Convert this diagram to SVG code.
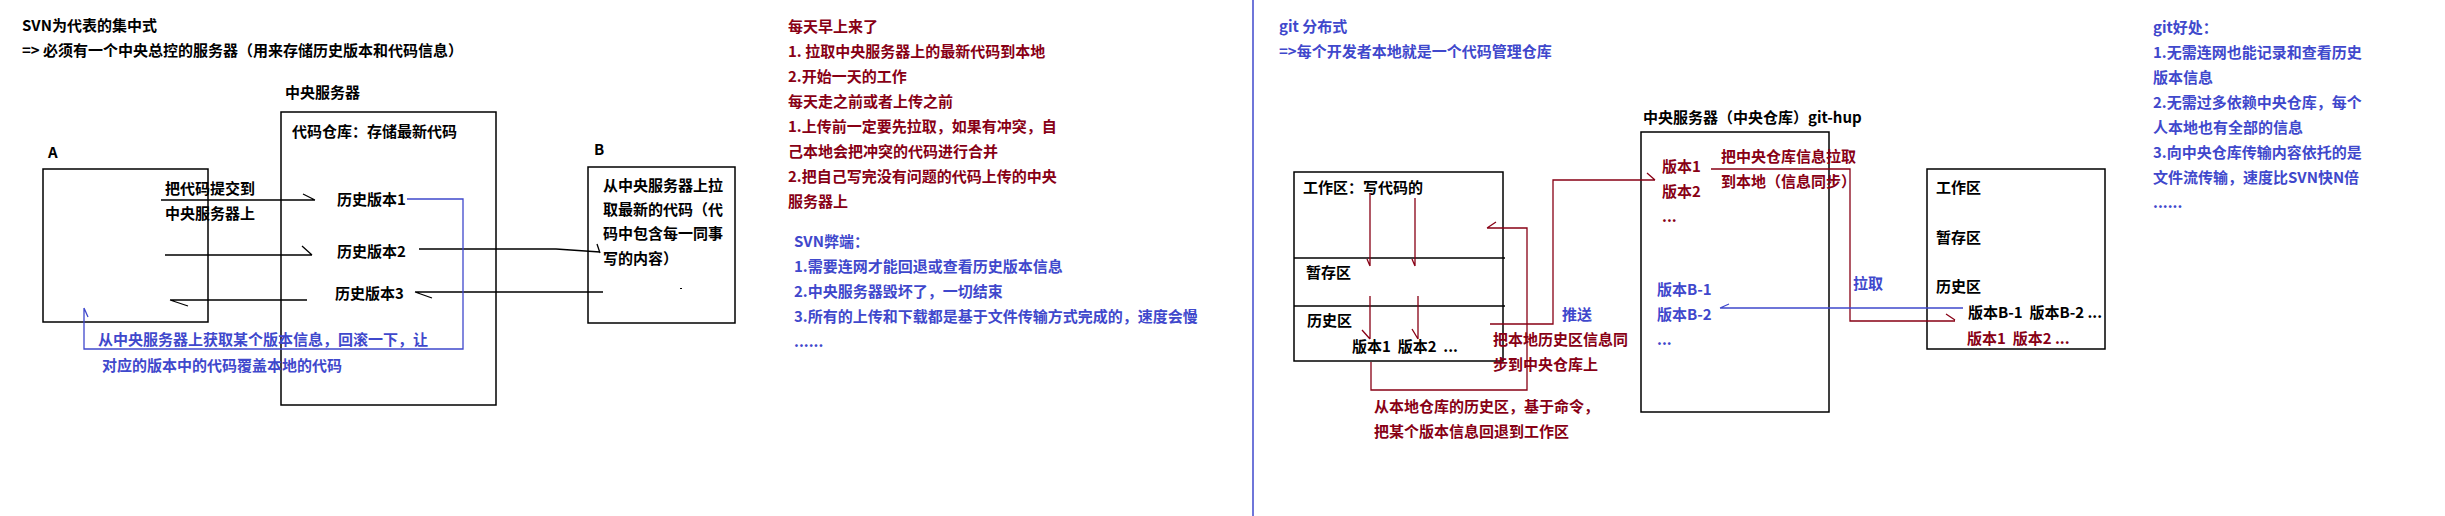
<svg xmlns="http://www.w3.org/2000/svg" width="2445" height="516" viewBox="0 0 2445 516" xml:space="preserve">
<style>
text{font-family:"Noto Sans CJK SC","Noto Sans",sans-serif;font-size:15px;font-weight:bold;white-space:pre;}
.k{fill:#000}
.r{fill:#880015}
.b{fill:#3F48CC}
.box{fill:none;stroke:#000;stroke-width:1.5}
.ck{fill:none;stroke:#000;stroke-width:1.3}
.cr{fill:none;stroke:#880015;stroke-width:1.3}
.cb{fill:none;stroke:#3F48CC;stroke-width:1.3}
</style>
<rect width="2445" height="516" fill="#fff"/>

<g id="svn-title">
<text class="k" x="22" y="31">SVN为代表的集中式</text>
<text class="k" x="22" y="56">=&gt; 必须有一个中央总控的服务器（用来存储历史版本和代码信息）</text>
</g>

<g id="node-central-svn">
<text class="k" x="285" y="98">中央服务器</text>
<rect class="box" x="281" y="112" width="215" height="293"/>
<text class="k" x="292" y="137">代码仓库：存储最新代码</text>
<text class="k" x="337" y="205">历史版本1</text>
<text class="k" x="337" y="257">历史版本2</text>
<text class="k" x="335" y="299">历史版本3</text>
</g>

<g id="node-a">
<text class="k" x="48" y="158">A</text>
<rect class="box" x="43" y="169" width="165" height="153"/>
</g>

<g id="node-b">
<text class="k" x="594" y="155">B</text>
<rect class="box" x="588" y="167" width="147" height="156"/>
<text class="k" x="603" y="191">从中央服务器上拉</text>
<text class="k" x="603" y="215">取最新的代码（代</text>
<text class="k" x="603" y="239">码中包含每一同事</text>
<text class="k" x="603" y="264">写的内容）</text>
<rect x="680" y="288" width="2" height="1" fill="#000"/>
</g>

<g id="svn-labels">
<text class="k" x="165" y="194">把代码提交到</text>
<text class="k" x="165" y="219">中央服务器上</text>
<text class="b" x="98" y="345">从中央服务器上获取某个版本信息，回滚一下，让</text>
<text class="b" x="102" y="371">对应的版本中的代码覆盖本地的代码</text>
</g>

<g id="svn-notes">
<text class="r" x="788" y="32">每天早上来了</text>
<text class="r" x="788" y="57">1. 拉取中央服务器上的最新代码到本地</text>
<text class="r" x="788" y="82">2.开始一天的工作</text>
<text class="r" x="788" y="107">每天走之前或者上传之前</text>
<text class="r" x="788" y="132">1.上传前一定要先拉取，如果有冲突，自</text>
<text class="r" x="788" y="157">己本地会把冲突的代码进行合并</text>
<text class="r" x="788" y="182">2.把自己写完没有问题的代码上传的中央</text>
<text class="r" x="788" y="207">服务器上</text>
<text class="b" x="794" y="247">SVN弊端：</text>
<text class="b" x="794" y="272">1.需要连网才能回退或查看历史版本信息</text>
<text class="b" x="794" y="297">2.中央服务器毁坏了，一切结束</text>
<text class="b" x="794" y="322">3.所有的上传和下载都是基于文件传输方式完成的，速度会慢</text>
<text class="b" x="794" y="347">......</text>
</g>

<g id="divider">
<line x1="1253" y1="0" x2="1253" y2="516" stroke="#3F48CC" stroke-width="1.5"/>
</g>

<g id="git-title">
<text class="b" x="1279" y="32">git 分布式</text>
<text class="b" x="1279" y="57">=&gt;每个开发者本地就是一个代码管理仓库</text>
</g>

<g id="node-local-repo">
<rect class="box" x="1294" y="172" width="209" height="189"/>
<line class="box" x1="1294" y1="258" x2="1505" y2="258"/>
<line class="box" x1="1294" y1="306" x2="1505" y2="306"/>
<text class="k" x="1303" y="193">工作区：写代码的</text>
<text class="k" x="1306" y="278">暂存区</text>
<text class="k" x="1307" y="326">历史区</text>
<text class="k" x="1352" y="352">版本1  版本2  ...</text>
</g>

<g id="node-central-git">
<text class="k" x="1643" y="123">中央服务器（中央仓库）git-hup</text>
<rect class="box" x="1641" y="132" width="188" height="280"/>
<text class="r" x="1662" y="172">版本1</text>
<text class="r" x="1662" y="197">版本2</text>
<text class="r" x="1662" y="222">...</text>
<text class="b" x="1657" y="295">版本B-1</text>
<text class="b" x="1657" y="320">版本B-2</text>
<text class="b" x="1657" y="345">...</text>
</g>

<g id="node-repo-b">
<rect class="box" x="1927" y="169" width="178" height="180"/>
<text class="k" x="1936" y="193">工作区</text>
<text class="k" x="1936" y="243">暂存区</text>
<text class="k" x="1936" y="292">历史区</text>
<text class="k" x="1968" y="318">版本B-1  版本B-2 ...</text>
<text class="r" x="1967" y="344">版本1  版本2 ...</text>
</g>

<g id="git-labels">
<text class="b" x="1562" y="320">推送</text>
<text class="r" x="1493" y="345">把本地历史区信息同</text>
<text class="r" x="1493" y="370">步到中央仓库上</text>
<text class="r" x="1374" y="412">从本地仓库的历史区，基于命令，</text>
<text class="r" x="1374" y="437">把某个版本信息回退到工作区</text>
<text class="r" x="1721" y="162">把中央仓库信息拉取</text>
<text class="r" x="1721" y="187">到本地（信息同步）</text>
<text class="b" x="1853" y="289">拉取</text>
</g>

<g id="git-notes">
<text class="b" x="2153" y="33">git好处：</text>
<text class="b" x="2153" y="58">1.无需连网也能记录和查看历史</text>
<text class="b" x="2153" y="83">版本信息</text>
<text class="b" x="2153" y="108">2.无需过多依赖中央仓库，每个</text>
<text class="b" x="2153" y="133">人本地也有全部的信息</text>
<text class="b" x="2153" y="158">3.向中央仓库传输内容依托的是</text>
<text class="b" x="2153" y="183">文件流传输，速度比SVN快N倍</text>
<text class="b" x="2153" y="208">......</text>
</g>

<g id="connectors">
<path class="ck" d="M161,200 H315 M303,194 L315,200"/>
<path class="ck" d="M165,255 H312 M302,246 L312,255"/>
<path class="ck" d="M307,300 H170 M170,300 L188,306"/>
<path class="ck" d="M419,249 H556 L600,252 M597,244 L600,253"/>
<path class="ck" d="M603,292 H415 M415,292 L432,298"/>
<path class="cb" d="M407,199 H463 V349 H84 V308 M84,308 L88,317"/>
<path class="cr" d="M1370,193 V266 M1367,259 L1370,266"/>
<path class="cr" d="M1415,198 V266 M1412,259 L1415,266"/>
<path class="cr" d="M1370,296 V339 M1362,330 L1370,339"/>
<path class="cr" d="M1418,296 V339 M1412,329 L1418,339"/>
<path class="cr" d="M1371,362 V390 H1527 V228 H1487 M1496,222 L1487,228"/>
<path class="cr" d="M1490,324 H1553 V180 H1655 M1647,173 L1655,180"/>
<path class="cr" d="M1711,169 H1850 V321 H1955 M1946,314 L1955,320"/>
<path class="cb" d="M1963,308 H1720 M1720,308 L1729,304"/>
</g>
</svg>
